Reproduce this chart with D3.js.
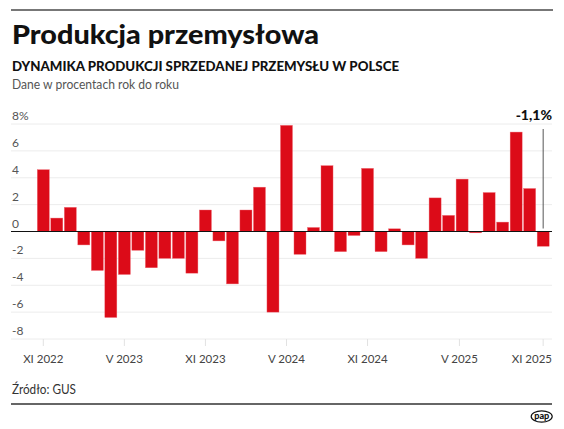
<!DOCTYPE html>
<html>
<head>
<meta charset="utf-8">
<script src="https://cdn.jsdelivr.net/npm/d3@7"></script>
<style>
  html, body { margin: 0; padding: 0; background: #fff; }
  svg { display: block; font-family: Lato, "Open Sans", sans-serif; }
</style>
</head>
<body>
<div id="chart"></div>
<script>
// ---- data ----
const months = [
  "X 2022","XI 2022","XII 2022",
  "I 2023","II 2023","III 2023","IV 2023","V 2023","VI 2023","VII 2023","VIII 2023","IX 2023","X 2023","XI 2023","XII 2023",
  "I 2024","II 2024","III 2024","IV 2024","V 2024","VI 2024","VII 2024","VIII 2024","IX 2024","X 2024","XI 2024","XII 2024",
  "I 2025","II 2025","III 2025","IV 2025","V 2025","VI 2025","VII 2025","VIII 2025","IX 2025","X 2025","XI 2025"
];
const values = [
  4.6, 1.0, 1.8,
  -1.0, -2.9, -6.4, -3.2, -1.4, -2.7, -2.0, -2.0, -3.1, 1.6, -0.7, -3.9,
  1.6, 3.3, -6.0, 7.9, -1.7, 0.3, 4.9, -1.5, -0.3, 4.7, -1.5, 0.2,
  -1.0, -2.0, 2.5, 1.2, 3.9, -0.1, 2.9, 0.7, 7.4, 3.2, -1.1
];
// x-axis labels and the bar positions (index into months) where the reference prints them
const tickLabels = ["XI 2022","V 2023","XI 2023","V 2024","XI 2024","V 2025","XI 2025"];
const tickIndex  = [0, 6, 12, 18, 24, 30.8, 37];
const yTicks = [8, 6, 4, 2, 0, -2, -4, -6, -8];
const annotationText = "-1,1%";

// ---- layout ----
const W = 564, H = 429;
const left = 11, right = 552;
const svg = d3.select("#chart").append("svg").attr("width", W).attr("height", H);

// top rule
svg.append("line").attr("x1", 11).attr("x2", 553).attr("y1", 10).attr("y2", 10)
  .attr("stroke", "#4a4a4a").attr("stroke-width", 1.6);

svg.append("text").attr("x", 12).attr("y", 44)
  .attr("font-size", 26).attr("font-weight", 900).attr("fill", "#111")
  .attr("textLength", 307).attr("lengthAdjust", "spacingAndGlyphs")
  .text("Produkcja przemysłowa");
svg.append("text").attr("x", 12).attr("y", 71)
  .attr("font-size", 13).attr("font-weight", 900).attr("fill", "#111")
  .attr("textLength", 387).attr("lengthAdjust", "spacingAndGlyphs")
  .text("DYNAMIKA PRODUKCJI SPRZEDANEJ PRZEMYSŁU W POLSCE");
svg.append("text").attr("x", 12).attr("y", 89)
  .attr("font-size", 13).attr("font-weight", 400).attr("fill", "#555")
  .attr("textLength", 167).attr("lengthAdjust", "spacingAndGlyphs")
  .text("Dane w procentach rok do roku");

// scales
const step = 13.51;
const x0 = 43.3 - step / 2;
const x = d3.scaleBand().domain(months)
  .range([x0, x0 + step * months.length])
  .paddingInner(0.11).paddingOuter(0.055);
const y = d3.scaleLinear().domain([-8, 8]).range([339, 124]);
const xi = d3.scaleLinear().domain([0, months.length - 1])
  .range([x(months[0]) + x.bandwidth() / 2, x(months[months.length - 1]) + x.bandwidth() / 2]);

// gridlines + y labels
const gy = svg.append("g");
gy.selectAll("line").data(yTicks.filter(d => d !== 0)).join("line")
  .attr("x1", left).attr("x2", right)
  .attr("y1", d => y(d)).attr("y2", d => y(d))
  .attr("stroke", "#ececec").attr("stroke-width", 1);
gy.selectAll("text").data(yTicks).join("text")
  .attr("x", 12).attr("y", d => y(d) - 4)
  .attr("font-size", 12).attr("fill", "#555")
  .text(d => d === 8 ? "8%" : String(d));

// x ticks
const gx = svg.append("g");
gx.selectAll("line").data(tickIndex).join("line")
  .attr("x1", d => xi(d)).attr("x2", d => xi(d))
  .attr("y1", y(-8)).attr("y2", y(-8) + 7)
  .attr("stroke", "#e2e2e2").attr("stroke-width", 1);
const lastTick = tickLabels.length - 1;
gx.selectAll("text").data(tickLabels).join("text")
  .attr("x", (d, i) => i === lastTick ? right : xi(tickIndex[i])).attr("y", 363)
  .attr("text-anchor", (d, i) => i === lastTick ? "end" : "middle")
  .attr("font-size", 11.5).attr("fill", "#444")
  .text(d => d);

// bars
svg.append("g").selectAll("rect").data(values).join("rect")
  .attr("x", (d, i) => x(months[i]))
  .attr("width", x.bandwidth())
  .attr("y", d => y(Math.max(0, d)))
  .attr("height", d => Math.abs(y(d) - y(0)))
  .attr("fill", "#dc0b18")
  .attr("stroke", "#ef6a74").attr("stroke-width", 0.4);

// zero line
svg.append("line").attr("x1", left).attr("x2", right)
  .attr("y1", y(0)).attr("y2", y(0))
  .attr("stroke", "#111").attr("stroke-width", 1.2);

// annotation
const lastX = x(months[months.length - 1]) + x.bandwidth() / 2;
svg.append("line").attr("x1", lastX).attr("x2", lastX)
  .attr("y1", 129).attr("y2", y(0) - 3)
  .attr("stroke", "#555").attr("stroke-width", 1);
svg.append("text").attr("x", 552).attr("y", 119.5)
  .attr("text-anchor", "end").attr("font-size", 14).attr("font-weight", 900).attr("fill", "#111")
  .text(annotationText);

// footer
svg.append("text").attr("x", 12).attr("y", 394)
  .attr("font-size", 13).attr("font-weight", 400).attr("fill", "#333")
  .attr("textLength", 64).attr("lengthAdjust", "spacingAndGlyphs")
  .text("Źródło: GUS");
svg.append("line").attr("x1", 11).attr("x2", 552).attr("y1", 404).attr("y2", 404)
  .attr("stroke", "#333").attr("stroke-width", 1.3);

// pap logo
const logo = svg.append("g").attr("transform", "translate(541.7,416.5)");
logo.append("ellipse").attr("rx", 10.5).attr("ry", 5.6)
  .attr("fill", "#fff").attr("stroke", "#111").attr("stroke-width", 1.2);
logo.append("text").attr("y", 2.5).attr("text-anchor", "middle")
  .attr("font-size", 9).attr("font-weight", 900).attr("fill", "#111")
  .attr("textLength", 15).attr("lengthAdjust", "spacingAndGlyphs")
  .text("pap");
</script>
</body>
</html>
